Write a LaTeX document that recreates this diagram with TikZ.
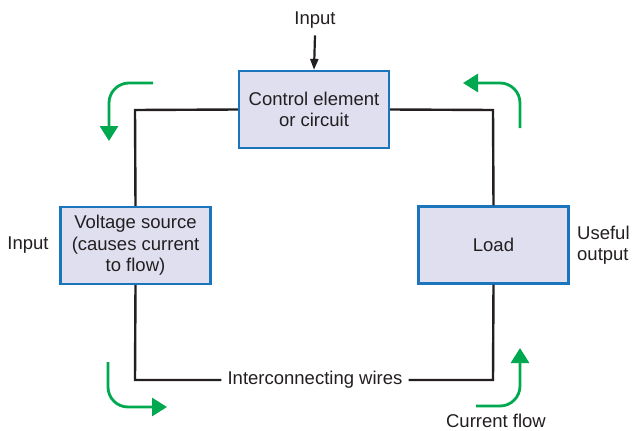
\documentclass[tikz,border=0pt]{standalone}
\usepackage{fontspec}
\setmainfont{Liberation Sans}
\usetikzlibrary{arrows.meta}
\definecolor{txt}{HTML}{231F20}
\definecolor{boxfill}{HTML}{DFDFF0}
\definecolor{boxline}{HTML}{1A75BC}
\definecolor{flow}{HTML}{00A94F}
\begin{document}
\begin{tikzpicture}[x=1pt,y=-1pt,
  blk/.style={draw=boxline,fill=boxfill,line width=2.2pt,minimum width=150pt,minimum height=77pt,align=center,font=\fontsize{18.5}{21.5}\selectfont,text=txt,inner sep=0pt},
  lbl/.style={font=\fontsize{18.5}{21.5}\selectfont,text=txt,inner sep=0pt,align=center},
  wire/.style={draw=txt,line width=2.4pt},
  flowarrow/.style={draw=flow,line width=2.8pt,rounded corners=20pt,-{Triangle[length=15pt,width=18pt]}}
]
\useasboundingbox (0,0) rectangle (632,431);
\node[blk] (ctrl) at (314,109.5) {Control element\\or circuit};
\node[blk] (vs) at (135.5,245.5) {Voltage source\\(causes current\\to flow)};
\node[blk] (load) at (493.5,245) {Load};
\node[lbl] (inTop) at (315,20) {Input};
\node[lbl] (inLeft) at (28,245) {Input};
\node[lbl,align=left,anchor=west] (useful) at (577,245) {Useful\\output};
\node[lbl,fill=white,inner xsep=6pt] (wires) at (315,380) {Interconnecting wires};
\node[lbl] (cf) at (496,421) {Current flow};
\coordinate (tl) at (135,110);
\coordinate (bl) at (135,380);
\coordinate (br) at (493,380);
\coordinate (tr) at (493,110);
\draw[wire,line join=miter] (ctrl.west) -- (tl) -- (vs.north);
\draw[wire,line join=miter] (vs.south) -- (bl) -- (wires.west);
\draw[wire,line join=miter] (wires.east) -- (br) -- (load.south);
\draw[wire,line join=miter] (load.north) -- (tr) -- (ctrl.east);
\draw[txt,line width=2.2pt,-{Triangle[length=11pt,width=8pt]}] (inTop.south) ++(0,7) -- (ctrl.north);
\coordinate (a1s) at (153,83);
\coordinate (a1c) at (109,83);
\coordinate (a1e) at (109,141);
\draw[flowarrow] (a1s) -- (a1c) -- (a1e);
\coordinate (a2s) at (108,362);
\coordinate (a2c) at (108,407);
\coordinate (a2e) at (167,407);
\draw[flowarrow] (a2s) -- (a2c) -- (a2e);
\coordinate (a3s) at (476,406);
\coordinate (a3c) at (520,406);
\coordinate (a3e) at (520,348);
\draw[flowarrow] (a3s) -- (a3c) -- (a3e);
\coordinate (a4s) at (520,128);
\coordinate (a4c) at (520,83);
\coordinate (a4e) at (463,83);
\draw[flowarrow] (a4s) -- (a4c) -- (a4e);
\end{tikzpicture}
\end{document}
